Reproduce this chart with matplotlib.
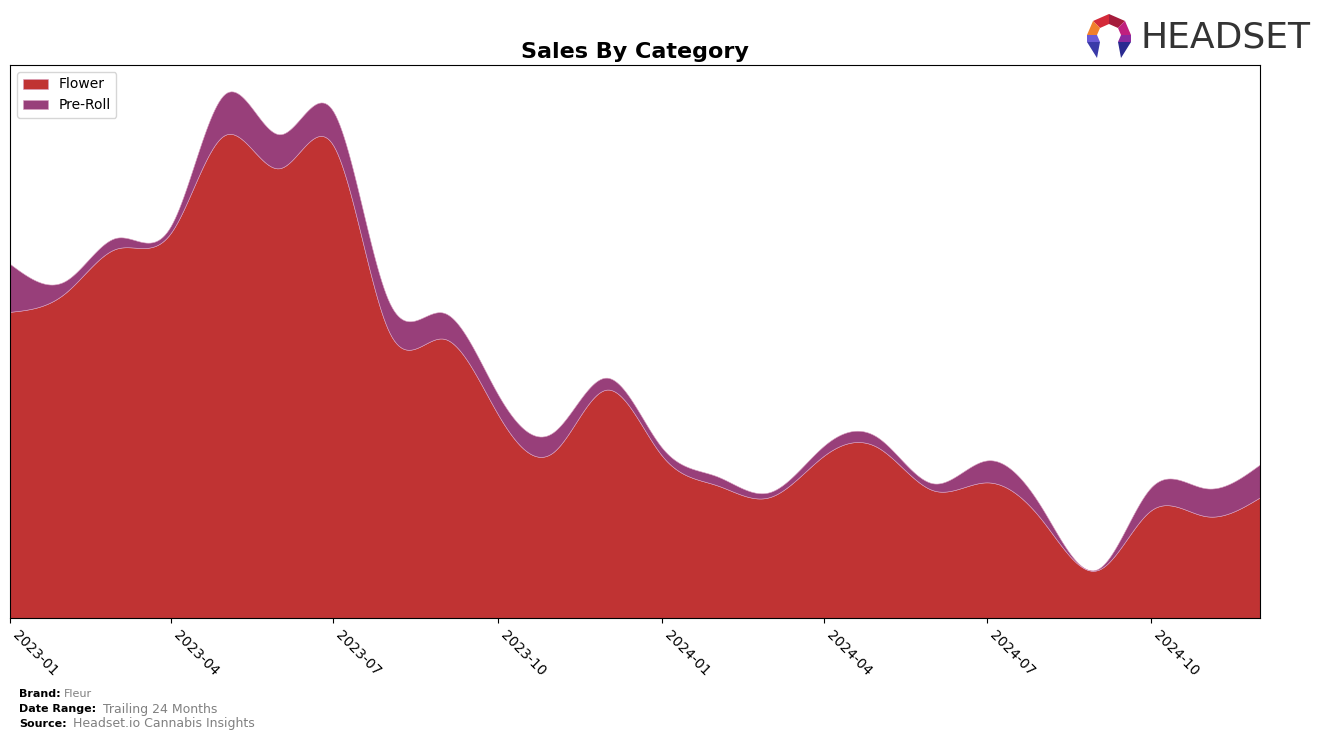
import matplotlib
matplotlib.use("Agg")
import matplotlib.pyplot as plt
import matplotlib.dates as mdates
from matplotlib.patches import Polygon
import numpy as np
import pandas as pd

# monthly sales, arbitrary units (no y scale shown on the chart)
months = pd.date_range("2023-01-01", periods=24, freq="MS")
flower = [307, 326, 370, 386, 484, 451, 474, 288, 280, 205, 166, 229,
          163, 133, 121, 163, 171, 128, 136, 98, 48, 108, 102, 121]
preroll = [48, 12, 11, 7, 41, 34, 34, 30, 26, 20, 20, 12,
           8, 9, 5, 10, 10, 7, 22, 12, 1, 23, 28, 33]
labels = ["Flower", "Pre-Roll"]
colors = ["#C03333", "#983F7A"]


def spline(x, y, xs):
    # natural cubic spline, only used to draw the curve smoothly
    x = np.asarray(x, float)
    y = np.asarray(y, float)
    n = len(x)
    h = np.diff(x)
    A = np.zeros((n, n))
    b = np.zeros(n)
    A[0, 0] = 1
    A[-1, -1] = 1
    for i in range(1, n - 1):
        A[i, i - 1] = h[i - 1]
        A[i, i] = 2 * (h[i - 1] + h[i])
        A[i, i + 1] = h[i]
        b[i] = 6 * ((y[i + 1] - y[i]) / h[i] - (y[i] - y[i - 1]) / h[i - 1])
    M = np.linalg.solve(A, b)
    idx = np.clip(np.searchsorted(x, xs) - 1, 0, n - 2)
    x0, x1 = x[idx], x[idx + 1]
    hh = x1 - x0
    t0 = x1 - xs
    t1 = xs - x0
    return (M[idx] * t0 ** 3 / (6 * hh) + M[idx + 1] * t1 ** 3 / (6 * hh)
            + (y[idx] / hh - M[idx] * hh / 6) * t0
            + (y[idx + 1] / hh - M[idx + 1] * hh / 6) * t1)


xd = mdates.date2num(months)
xs = np.linspace(xd[0], xd[-1], 600)
f_s = np.clip(spline(xd, flower, xs), 0, None)
p_s = np.clip(spline(xd, preroll, xs), 0, None)

fig = plt.figure(figsize=(13.24, 7.40), dpi=100)
ax = fig.add_axes([10 / 1324, 1 - 618 / 740, 1250 / 1324, 553 / 740])

ax.stackplot(xs, f_s, p_s, labels=labels, colors=colors,
             edgecolor="#d9a0c0", linewidth=0.4)
ax.set_xlim(xd[0], xd[-1])
ax.set_ylim(0, max(f_s + p_s) * 1.05)
ax.set_yticks([])

ticks = pd.date_range("2023-01-01", "2024-10-01", freq="3MS")
ax.set_xticks(mdates.date2num(ticks))
ax.set_xticklabels([t.strftime("%Y-%m") for t in ticks], rotation=-45,
                   ha="left", fontsize=10)

ax.set_title("Sales By Category", fontsize=16, fontweight="bold", pad=5)
ax.legend(loc="upper left", fontsize=10, handlelength=1.8)

# footer
fig.text(19 / 1324, 1 - 694 / 740, "Brand:", fontsize=8, fontweight="bold", va="center")
fig.text(64 / 1324, 1 - 694 / 740, "Fleur", fontsize=8, color="gray", va="center")
fig.text(19 / 1324, 1 - 709 / 740, "Date Range:", fontsize=8, fontweight="bold", va="center")
fig.text(103 / 1324, 1 - 709 / 740, "Trailing 24 Months", fontsize=9, color="gray", va="center")
fig.text(19 / 1324, 1 - 724 / 740, "Source:", fontsize=8, fontweight="bold", va="center")
fig.text(73 / 1324, 1 - 724 / 740, "Headset.io Cannabis Insights", fontsize=9, color="gray", va="center")

# logo
fig.text(1140 / 1324, 1 - 37 / 740, "HEADSET", fontsize=26, color="#333333",
         va="center", ha="left")
lg = fig.add_axes([1080 / 1324, 1 - 62 / 740, 56 / 1324, 56 / 740])
lg.set_xlim(1080, 1136)
lg.set_ylim(62, 6)
lg.axis("off")
T, UL, L, BL = (1109, 14), (1093, 21), (1087, 35), (1087, 42)
UR, R, BR = (1125, 21), (1131, 35), (1131, 42)
iT, iUL, iL, iBL = (1109, 24), (1100, 28), (1097, 35), (1100, 42)
iUR, iR, iBR = (1118, 28), (1121, 35), (1118, 42)
shapes = [
    ([T, UL, iUL, iT], "#d42a3a"),
    ([T, UR, iUR, iT], "#a51c3c"),
    ([UL, L, iL, iUL], "#f07f2c"),
    ([UR, R, iR, iUR], "#c0207e"),
    ([L, BL, iBL, iL], "#6a5ad6"),
    ([R, BR, iBR, iR], "#8a2aa0"),
    ([BL, (1097, 58), iBL], "#3a3aa8"),
    ([BR, (1121, 58), iBR], "#2a2a90"),
]
for pts, c in shapes:
    lg.add_patch(Polygon(pts, closed=True, color=c, lw=0))

fig.savefig("out.png", dpi=100)
